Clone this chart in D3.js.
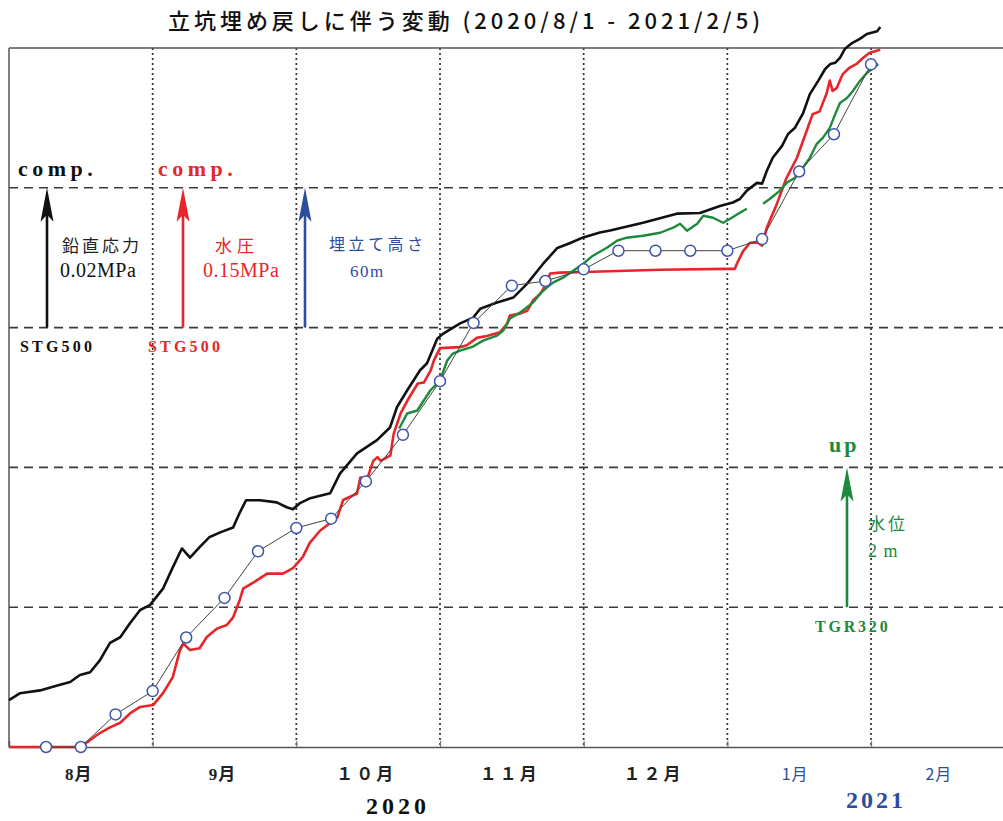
<!DOCTYPE html>
<html><head><meta charset="utf-8">
<script src="https://cdn.jsdelivr.net/npm/d3@7"></script>
<style>
  body { margin: 0; background: #fff; }
  svg { display: block; }
</style>
</head><body>
<svg id="chart" width="1003" height="821"></svg>
<script>
// ---- time axis: days since 2020-08-01, month boundaries and labels ----
const monthStartDays = [0, 31, 61, 92, 122, 153, 184, 212];
const monthLabels = ["8月", "9月", "１０月", "１１月", "１２月", "1月", "2月"];
const yearLabels = ["2020", "2021"];
const titleText = "立坑埋め戻しに伴う変動 (2020/8/1 - 2021/2/5)";

// ---- vertical stress change at STG500 [day, MPa] ----
const stressSeries = [
  [0,0.0067],[2.4,0.0077],[6.7,0.0081],[11,0.0089],[13.2,0.0093],[15.3,0.0103],[17.5,0.0107],
  [19.6,0.0124],[21.8,0.0149],[24,0.0157],[26.1,0.0177],[28.3,0.0196],[30.4,0.0203],[33.2,0.0227],
  [35.2,0.0257],[37.1,0.0284],[38.8,0.0271],[40.8,0.0286],[42.8,0.0300],[45.1,0.0307],[47.8,0.0314],
  [49.1,0.0334],[50.5,0.0353],[53.4,0.0353],[56.9,0.0350],[59,0.0343],[60.3,0.0340],[61.8,0.0349],
  [64,0.0356],[68.3,0.0363],[70.4,0.0391],[74.1,0.0420],[78.4,0.0439],[81.2,0.0457],[82.7,0.0486],
  [84.9,0.0510],[87.7,0.0539],[89.2,0.0549],[91.4,0.0584],[92.6,0.0591],[96.2,0.0606],[98.9,0.0614],
  [100.4,0.0627],[103.9,0.0636],[107.3,0.0643],[110.2,0.0663],[113.5,0.0691],[116.5,0.0714],
  [119.2,0.0721],[121.9,0.0729],[125.5,0.0736],[127.7,0.0739],[134.8,0.0750],[142.1,0.0763],
  [147.1,0.0764],[151.4,0.0774],[154.2,0.0779],[155.7,0.0784],[157.2,0.0796],[159.4,0.0807],
  [160.5,0.0806],[161.5,0.0824],[162.8,0.0843],[164.8,0.0860],[166.1,0.0877],[167.6,0.0886],
  [169.3,0.0906],[170.8,0.0934],[172.6,0.0953],[174.1,0.0970],[175.2,0.0977],[176.3,0.0979],
  [177.3,0.0986],[178.4,0.0999],[179.9,0.1007],[181.6,0.1013],[183.1,0.1020],[185.2,0.1024],[185.8,0.1030]
];

// ---- pore water pressure change at STG500 [day, MPa] ----
const pressureSeries = [
  [0,0],[12.5,0],[14.7,0],[16.8,0.005],[19.6,0.015],[21.8,0.021],[24,0.026],[26.1,0.036],[28.3,0.043],
  [31.1,0.045],[33.2,0.058],[35.2,0.075],[36.7,0.104],[37.4,0.111],[38.8,0.104],[40.8,0.106],[42.3,0.118],
  [44.4,0.127],[46.5,0.131],[47.8,0.139],[49.2,0.158],[49.9,0.170],[51.9,0.176],[54.9,0.186],[58.2,0.186],
  [60.3,0.192],[62.4,0.204],[63.9,0.219],[66.1,0.232],[69.8,0.246],[71.1,0.265],[74.1,0.272],[74.8,0.289],
  [76.3,0.288],[77.6,0.307],[78.5,0.311],[79.2,0.307],[81.3,0.313],[82,0.336],[83.5,0.358],[85,0.372],
  [87.2,0.390],[88.5,0.391],[90,0.404],[90.7,0.415],[92,0.428],[96.2,0.429],[97.6,0.431],[99.7,0.439],
  [101.8,0.441],[104.5,0.445],[106,0.454],[106.6,0.463],[108.7,0.465],[110.2,0.468],[111.4,0.479],
  [112.9,0.486],[114.3,0.498],[115,0.508],[117.1,0.509],[124,0.510],[138.5,0.512],[152.9,0.513],
  [154.6,0.513],[155.1,0.519],[156.4,0.532],[157.9,0.541],[159.6,0.541],[160.5,0.538],[161.5,0.557],
  [163.7,0.583],[165.8,0.611],[168,0.632],[170.1,0.661],[171.4,0.679],[172.9,0.682],[174.4,0.701],
  [175.1,0.715],[175.7,0.704],[176.6,0.707],[177.9,0.722],[179.4,0.729],[180.9,0.733],[182.2,0.739],
  [183.7,0.745],[185.8,0.748]
];

// ---- groundwater level change at TGR320 [day, m]; null marks a data gap ----
const levelSeries = [
  [83.2,4.557],[84.9,4.771],[87.1,4.814],[89.9,5.100],[92,5.243],[93.5,5.529],[94.7,5.629],[96.2,5.671],
  [98.9,5.729],[101,5.814],[103.9,5.886],[105.2,5.957],[106.6,6.129],[108.7,6.214],[111.4,6.357],
  [112.9,6.486],[114.3,6.571],[115.6,6.643],[117.7,6.714],[119.8,6.814],[121.9,6.914],[124,7.029],
  [127,7.143],[129.2,7.243],[131.3,7.286],[134.8,7.314],[138.5,7.357],[141.3,7.429],[142.8,7.486],
  [144.3,7.386],[146.5,7.486],[147.8,7.600],[149.9,7.571],[152.1,7.500],[153.6,7.557],[155.7,7.643],
  [157.2,7.700],[159,null],[160.7,7.771],[162.2,7.843],[164.3,7.957],[165.8,8.071],[167.6,8.143],
  [169.3,8.286],[170.8,8.429],[172.3,8.629],[173.6,8.714],[175.1,8.857],[176.3,9.057],[177.3,9.214],
  [178.8,9.286],[180.1,9.386],[181.6,9.529],[183.1,9.643],[184.4,9.714],[185.4,9.771]
];

// ---- backfill height of the shaft [day, m] ----
const fillDays    = [8, 15.5, 23, 31, 38, 46, 53, 61, 68.5, 76, 84, 92, 99, 107, 114, 122, 129.5, 137.5, 145, 153, 160.5, 168.5, 176, 184];
const fillHeights = [0, 0, 14, 24, 47, 64, 84, 94, 98, 114, 134, 157, 182, 198, 200, 205, 213, 213, 213, 213, 218, 247, 263, 293];

// ---- layout ----
const svg = d3.select("#chart");
const W = 1003, plotLeft = 9, plotTop = 48, plotBottom = 747, monthW = 143.67;
const bands = 5;

const x = d3.scaleLinear()
  .domain(monthStartDays)
  .range(monthStartDays.map((d, i) => plotLeft + i * monthW));
const yBand = d3.scaleLinear().domain([0, bands]).range([plotBottom, plotTop]);
const yStress = d3.scaleLinear().domain([0, 0.02 * bands]).range([plotBottom, plotTop]);
const yPress = d3.scaleLinear().domain([0, 0.15 * bands]).range([plotBottom, plotTop]);
const yLevel = d3.scaleLinear().domain([0, 2 * bands]).range([plotBottom, plotTop]);
const yFill = d3.scaleLinear().domain([0, 60 * bands]).range([plotBottom, plotTop]);

const C = { black: "#111", red: "#e6262b", green: "#1d8a3b", blue: "#2d4d9e", circle: "#3d55ae", grid: "#333" };

// title
svg.append("text")
  .attr("x", 168).attr("y", 29)
  .attr("textLength", 592).attr("lengthAdjust", "spacing")
  .style("font-family", "'Noto Sans CJK JP', 'Noto Sans', sans-serif")
  .style("font-size", "22px").style("font-weight", 500).attr("fill", "#111")
  .text(titleText);

// grid: dotted month boundaries, dashed band lines
const grid = svg.append("g");
grid.selectAll("line.v").data(monthStartDays.slice(1, 7)).join("line")
  .attr("x1", d => x(d)).attr("x2", d => x(d))
  .attr("y1", plotTop).attr("y2", plotBottom)
  .attr("stroke", C.grid).attr("stroke-width", 1.7).attr("stroke-dasharray", "2,3");
grid.selectAll("line.h").data(d3.range(1, bands)).join("line")
  .attr("x1", plotLeft).attr("x2", W)
  .attr("y1", d => yBand(d)).attr("y2", d => yBand(d))
  .attr("stroke", "#3a3a3a").attr("stroke-width", 1.6).attr("stroke-dasharray", "9,6");

// frame
svg.append("line").attr("x1", plotLeft).attr("x2", W).attr("y1", plotTop).attr("y2", plotTop)
  .attr("stroke", "#555").attr("stroke-width", 1.5);
svg.append("line").attr("x1", plotLeft).attr("x2", plotLeft).attr("y1", plotTop).attr("y2", plotBottom)
  .attr("stroke", "#555").attr("stroke-width", 1.5);

// bottom axis with inward month ticks
const axis = svg.append("g").attr("transform", `translate(0,${plotBottom})`)
  .call(d3.axisBottom(x).tickValues(monthStartDays.slice(1, 7)).tickSize(-6).tickFormat(""));
axis.select(".domain").attr("stroke", "#555").attr("stroke-width", 1.5);
axis.selectAll(".tick line").attr("stroke", "#777").attr("stroke-width", 1.2);

// month labels centred in each month
svg.append("g").selectAll("text").data(monthLabels).join("text")
  .attr("x", (d, i) => x((monthStartDays[i] + monthStartDays[i + 1]) / 2) - (i >= 5 ? 4 : 2))
  .attr("y", 780)
  .attr("text-anchor", "middle")
  .attr("fill", (d, i) => i >= 5 ? C.blue : "#222")
  .style("font-family", (d, i) => i >= 5 ? "'Noto Sans CJK JP', sans-serif" : "'Liberation Serif', 'Noto Sans CJK JP', serif")
  .style("font-weight", (d, i) => i >= 5 ? 400 : 700)
  .style("font-size", (d, i) => i >= 5 ? "16px" : "17px")
  .style("letter-spacing", (d, i) => i >= 2 && i < 5 ? "3px" : "1px")
  .text(d => d);

// year labels
svg.append("text").attr("x", 398).attr("y", 814).attr("text-anchor", "middle")
  .attr("fill", "#111").style("font-family", "'Liberation Serif', serif")
  .style("font-weight", 700).style("font-size", "24px").style("letter-spacing", "4px")
  .text(yearLabels[0]);
svg.append("text").attr("x", 876).attr("y", 808).attr("text-anchor", "middle")
  .attr("fill", C.blue).style("font-family", "'Liberation Serif', serif")
  .style("font-weight", 700).style("font-size", "24px").style("letter-spacing", "3px")
  .text(yearLabels[1]);

// ---- series ----
const lineOf = (yScale) => d3.line()
  .defined(d => d[1] !== null)
  .x(d => x(d[0])).y(d => yScale(d[1]));

svg.append("path").datum(stressSeries)
  .attr("d", lineOf(yStress)).attr("fill", "none")
  .attr("stroke", C.black).attr("stroke-width", 2.6).attr("stroke-linejoin", "round");
svg.append("path").datum(pressureSeries)
  .attr("d", lineOf(yPress)).attr("fill", "none")
  .attr("stroke", C.red).attr("stroke-width", 2.6).attr("stroke-linejoin", "round");
svg.append("path").datum(levelSeries)
  .attr("d", lineOf(yLevel)).attr("fill", "none")
  .attr("stroke", C.green).attr("stroke-width", 2.4).attr("stroke-linejoin", "round");

const fillData = fillDays.map((d, i) => [d, fillHeights[i]]);
svg.append("path").datum(fillData)
  .attr("d", lineOf(yFill)).attr("fill", "none")
  .attr("stroke", "#444").attr("stroke-width", 1);
svg.append("g").selectAll("circle").data(fillData).join("circle")
  .attr("cx", d => x(d[0])).attr("cy", d => yFill(d[1])).attr("r", 5.5)
  .attr("fill", "#fff").attr("stroke", C.circle).attr("stroke-width", 1.5);

// ---- scale arrows (one band = one unit of each quantity) ----
function arrow(xp, y0, y1, color) {
  const g = svg.append("g");
  g.append("line").attr("x1", xp).attr("x2", xp).attr("y1", y0).attr("y2", y1 + 20)
    .attr("stroke", color).attr("stroke-width", 2.6);
  g.append("path")
    .attr("d", `M${xp},${y1} L${xp - 6.5},${y1 + 34} L${xp},${y1 + 27} L${xp + 6.5},${y1 + 34} Z`)
    .attr("fill", color);
}
function label(xp, yp, txt, color, opts = {}) {
  svg.append("text").attr("x", xp).attr("y", yp).attr("fill", color)
    .style("font-family", opts.serif ? "'Liberation Serif', serif" : "'Noto Sans CJK JP', sans-serif")
    .style("font-weight", opts.bold ? 700 : 400)
    .style("font-size", (opts.size || 16) + "px")
    .style("letter-spacing", (opts.ls || 0) + "px")
    .text(txt);
}

arrow(47, yStress(0.06), yStress(0.08), C.black);
arrow(183, yPress(0.45), yPress(0.60), C.red);
arrow(305, yFill(180), yFill(240), C.blue);
arrow(847, yLevel(2), yLevel(4), C.green);

label(18, 176, "comp.", "#111", { serif: true, bold: true, size: 22, ls: 4.5 });
label(158, 176, "comp.", C.red, { serif: true, bold: true, size: 22, ls: 4.5 });
label(62, 252, "鉛直応力", "#222", { size: 17, ls: 3 });
label(60, 277, "0.02MPa", "#111", { serif: true, size: 20, ls: 0.5 });
label(215, 252, "水圧", C.red, { size: 17, ls: 5 });
label(203, 277, "0.15MPa", C.red, { serif: true, size: 20, ls: 0.5 });
label(329, 250, "埋立て高さ", C.blue, { size: 16, ls: 3.5 });
label(350, 277, "60m", C.blue, { serif: true, size: 17, ls: 1.5 });
label(20, 352, "STG500", "#111", { serif: true, bold: true, size: 16, ls: 3.2 });
label(148, 352, "STG500", C.red, { serif: true, bold: true, size: 16, ls: 3.2 });

label(829, 452, "up", C.green, { serif: true, bold: true, size: 22, ls: 3 });
label(868, 530, "水位", C.green, { size: 17, ls: 3 });
label(868, 557, "2 m", C.green, { serif: true, size: 18, ls: 1 });
label(815, 632, "TGR320", C.green, { serif: true, bold: true, size: 16, ls: 2.8 });
</script>
</body></html>
